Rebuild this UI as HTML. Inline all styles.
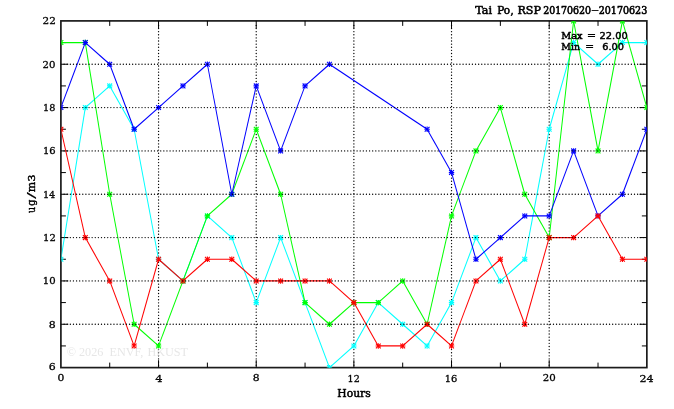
<!DOCTYPE html>
<html lang="en"><head><meta charset="utf-8"><title>Tai Po, RSP 20170620-20170623</title>
<style>
html,body{margin:0;padding:0;background:#fff;}
body{width:674px;height:409px;overflow:hidden;}
svg{display:block;}
text{font-family:"DejaVu Serif","Liberation Serif",serif;fill:#000;}
.t{stroke:#000;stroke-linejoin:round;}
.wm{font-family:"Liberation Serif",serif;font-size:12.2px;fill:#d6d6d6;fill-opacity:0.6;}
</style></head><body>
<svg width="674" height="409" viewBox="0 0 674 409">
<rect x="0" y="0" width="674" height="409" fill="#ffffff"/>
<defs><clipPath id="pc"><rect x="61.50" y="21.20" width="585.35" height="346.40"/></clipPath></defs>
<rect x="60.90" y="20.90" width="585.95" height="346.70" fill="none" stroke="#1c1c1c" stroke-width="1.70"/>
<g stroke="#000" stroke-width="1.00" fill="none">
<line x1="109.73" y1="20.90" x2="109.73" y2="25.90"/>
<line x1="109.73" y1="367.60" x2="109.73" y2="362.60"/>
<line x1="158.56" y1="20.90" x2="158.56" y2="28.30"/>
<line x1="158.56" y1="367.60" x2="158.56" y2="360.20"/>
<line x1="207.39" y1="20.90" x2="207.39" y2="25.90"/>
<line x1="207.39" y1="367.60" x2="207.39" y2="362.60"/>
<line x1="256.22" y1="20.90" x2="256.22" y2="28.30"/>
<line x1="256.22" y1="367.60" x2="256.22" y2="360.20"/>
<line x1="305.05" y1="20.90" x2="305.05" y2="25.90"/>
<line x1="305.05" y1="367.60" x2="305.05" y2="362.60"/>
<line x1="353.88" y1="20.90" x2="353.88" y2="28.30"/>
<line x1="353.88" y1="367.60" x2="353.88" y2="360.20"/>
<line x1="402.70" y1="20.90" x2="402.70" y2="25.90"/>
<line x1="402.70" y1="367.60" x2="402.70" y2="362.60"/>
<line x1="451.53" y1="20.90" x2="451.53" y2="28.30"/>
<line x1="451.53" y1="367.60" x2="451.53" y2="360.20"/>
<line x1="500.36" y1="20.90" x2="500.36" y2="25.90"/>
<line x1="500.36" y1="367.60" x2="500.36" y2="362.60"/>
<line x1="549.19" y1="20.90" x2="549.19" y2="28.30"/>
<line x1="549.19" y1="367.60" x2="549.19" y2="360.20"/>
<line x1="598.02" y1="20.90" x2="598.02" y2="25.90"/>
<line x1="598.02" y1="367.60" x2="598.02" y2="362.60"/>
<line x1="60.90" y1="345.93" x2="65.90" y2="345.93"/>
<line x1="646.85" y1="345.93" x2="641.85" y2="345.93"/>
<line x1="60.90" y1="324.26" x2="68.30" y2="324.26"/>
<line x1="646.85" y1="324.26" x2="639.45" y2="324.26"/>
<line x1="60.90" y1="302.59" x2="65.90" y2="302.59"/>
<line x1="646.85" y1="302.59" x2="641.85" y2="302.59"/>
<line x1="60.90" y1="280.93" x2="68.30" y2="280.93"/>
<line x1="646.85" y1="280.93" x2="639.45" y2="280.93"/>
<line x1="60.90" y1="259.26" x2="65.90" y2="259.26"/>
<line x1="646.85" y1="259.26" x2="641.85" y2="259.26"/>
<line x1="60.90" y1="237.59" x2="68.30" y2="237.59"/>
<line x1="646.85" y1="237.59" x2="639.45" y2="237.59"/>
<line x1="60.90" y1="215.92" x2="65.90" y2="215.92"/>
<line x1="646.85" y1="215.92" x2="641.85" y2="215.92"/>
<line x1="60.90" y1="194.25" x2="68.30" y2="194.25"/>
<line x1="646.85" y1="194.25" x2="639.45" y2="194.25"/>
<line x1="60.90" y1="172.58" x2="65.90" y2="172.58"/>
<line x1="646.85" y1="172.58" x2="641.85" y2="172.58"/>
<line x1="60.90" y1="150.91" x2="68.30" y2="150.91"/>
<line x1="646.85" y1="150.91" x2="639.45" y2="150.91"/>
<line x1="60.90" y1="129.24" x2="65.90" y2="129.24"/>
<line x1="646.85" y1="129.24" x2="641.85" y2="129.24"/>
<line x1="60.90" y1="107.58" x2="68.30" y2="107.58"/>
<line x1="646.85" y1="107.58" x2="639.45" y2="107.58"/>
<line x1="60.90" y1="85.91" x2="65.90" y2="85.91"/>
<line x1="646.85" y1="85.91" x2="641.85" y2="85.91"/>
<line x1="60.90" y1="64.24" x2="68.30" y2="64.24"/>
<line x1="646.85" y1="64.24" x2="639.45" y2="64.24"/>
<line x1="60.90" y1="42.57" x2="65.90" y2="42.57"/>
<line x1="646.85" y1="42.57" x2="641.85" y2="42.57"/>
</g>
<g stroke="#000" stroke-width="1.35" stroke-dasharray="0.01 3.107" stroke-linecap="round" fill="none">
<line x1="158.56" y1="25.42" x2="158.56" y2="366.60"/>
<line x1="256.22" y1="25.42" x2="256.22" y2="366.60"/>
<line x1="353.88" y1="25.42" x2="353.88" y2="366.60"/>
<line x1="451.53" y1="25.42" x2="451.53" y2="366.60"/>
<line x1="549.19" y1="25.42" x2="549.19" y2="366.60"/>
</g>
<g clip-path="url(#pc)" fill="none" stroke-width="1.15" stroke-linejoin="round">
<g stroke="#00ffff">
<line x1="60.90" y1="259.26" x2="85.31" y2="107.58" stroke-width="1.01"/>
<line x1="85.31" y1="107.58" x2="109.73" y2="85.91" stroke-width="1.11"/>
<line x1="109.73" y1="85.91" x2="134.14" y2="129.24" stroke-width="1.05"/>
<line x1="134.14" y1="129.24" x2="158.56" y2="259.26" stroke-width="1.01"/>
<line x1="158.56" y1="259.26" x2="182.97" y2="280.93" stroke-width="1.11"/>
<line x1="182.97" y1="280.93" x2="207.39" y2="215.92" stroke-width="1.02"/>
<line x1="207.39" y1="215.92" x2="231.80" y2="237.59" stroke-width="1.11"/>
<line x1="231.80" y1="237.59" x2="256.22" y2="302.59" stroke-width="1.02"/>
<line x1="256.22" y1="302.59" x2="280.63" y2="237.59" stroke-width="1.02"/>
<line x1="280.63" y1="237.59" x2="305.05" y2="302.59" stroke-width="1.02"/>
<line x1="305.05" y1="302.59" x2="329.46" y2="367.60" stroke-width="1.02"/>
<line x1="329.46" y1="367.60" x2="353.88" y2="345.93" stroke-width="1.11"/>
<line x1="353.88" y1="345.93" x2="378.29" y2="302.59" stroke-width="1.05"/>
<line x1="378.29" y1="302.59" x2="402.70" y2="324.26" stroke-width="1.11"/>
<line x1="402.70" y1="324.26" x2="427.12" y2="345.93" stroke-width="1.11"/>
<line x1="427.12" y1="345.93" x2="451.53" y2="302.59" stroke-width="1.05"/>
<line x1="451.53" y1="302.59" x2="475.95" y2="237.59" stroke-width="1.02"/>
<line x1="475.95" y1="237.59" x2="500.36" y2="280.93" stroke-width="1.05"/>
<line x1="500.36" y1="280.93" x2="524.78" y2="259.26" stroke-width="1.11"/>
<line x1="524.78" y1="259.26" x2="549.19" y2="129.24" stroke-width="1.01"/>
<line x1="549.19" y1="129.24" x2="573.61" y2="42.57" stroke-width="1.01"/>
<line x1="573.61" y1="42.57" x2="598.02" y2="64.24" stroke-width="1.11"/>
<line x1="598.02" y1="64.24" x2="622.44" y2="42.57" stroke-width="1.11"/>
<line x1="622.44" y1="42.57" x2="646.85" y2="42.57" stroke-width="1.20"/>
<path stroke-width="1.10" d="M58.20 259.26h5.40M60.90 256.56v5.40M82.61 107.58h5.40M85.31 104.88v5.40M107.03 85.91h5.40M109.73 83.21v5.40M131.44 129.24h5.40M134.14 126.54v5.40M155.86 259.26h5.40M158.56 256.56v5.40M180.27 280.93h5.40M182.97 278.23v5.40M204.69 215.92h5.40M207.39 213.22v5.40M229.10 237.59h5.40M231.80 234.89v5.40M253.52 302.59h5.40M256.22 299.89v5.40M277.93 237.59h5.40M280.63 234.89v5.40M302.35 302.59h5.40M305.05 299.89v5.40M326.76 367.60h5.40M329.46 364.90v5.40M351.18 345.93h5.40M353.88 343.23v5.40M375.59 302.59h5.40M378.29 299.89v5.40M400.00 324.26h5.40M402.70 321.56v5.40M424.42 345.93h5.40M427.12 343.23v5.40M448.83 302.59h5.40M451.53 299.89v5.40M473.25 237.59h5.40M475.95 234.89v5.40M497.66 280.93h5.40M500.36 278.23v5.40M522.08 259.26h5.40M524.78 256.56v5.40M546.49 129.24h5.40M549.19 126.54v5.40M570.91 42.57h5.40M573.61 39.87v5.40M595.32 64.24h5.40M598.02 61.54v5.40M619.74 42.57h5.40M622.44 39.87v5.40M644.15 42.57h5.40M646.85 39.87v5.40"/>
<path stroke-width="1.10" d="M58.50 256.86l4.80 4.80M58.50 261.66l4.80 -4.80M82.91 105.18l4.80 4.80M82.91 109.98l4.80 -4.80M107.33 83.51l4.80 4.80M107.33 88.31l4.80 -4.80M131.74 126.84l4.80 4.80M131.74 131.64l4.80 -4.80M156.16 256.86l4.80 4.80M156.16 261.66l4.80 -4.80M180.57 278.53l4.80 4.80M180.57 283.32l4.80 -4.80M204.99 213.52l4.80 4.80M204.99 218.32l4.80 -4.80M229.40 235.19l4.80 4.80M229.40 239.99l4.80 -4.80M253.82 300.19l4.80 4.80M253.82 304.99l4.80 -4.80M278.23 235.19l4.80 4.80M278.23 239.99l4.80 -4.80M302.65 300.19l4.80 4.80M302.65 304.99l4.80 -4.80M327.06 365.20l4.80 4.80M327.06 370.00l4.80 -4.80M351.48 343.53l4.80 4.80M351.48 348.33l4.80 -4.80M375.89 300.19l4.80 4.80M375.89 304.99l4.80 -4.80M400.30 321.86l4.80 4.80M400.30 326.66l4.80 -4.80M424.72 343.53l4.80 4.80M424.72 348.33l4.80 -4.80M449.13 300.19l4.80 4.80M449.13 304.99l4.80 -4.80M473.55 235.19l4.80 4.80M473.55 239.99l4.80 -4.80M497.96 278.53l4.80 4.80M497.96 283.32l4.80 -4.80M522.38 256.86l4.80 4.80M522.38 261.66l4.80 -4.80M546.79 126.84l4.80 4.80M546.79 131.64l4.80 -4.80M571.21 40.17l4.80 4.80M571.21 44.97l4.80 -4.80M595.62 61.84l4.80 4.80M595.62 66.64l4.80 -4.80M620.04 40.17l4.80 4.80M620.04 44.97l4.80 -4.80M644.45 40.17l4.80 4.80M644.45 44.97l4.80 -4.80"/>
</g>
<g stroke="#00ff00">
<line x1="60.90" y1="42.57" x2="85.31" y2="42.57" stroke-width="1.20"/>
<line x1="85.31" y1="42.57" x2="109.73" y2="194.25" stroke-width="1.01"/>
<line x1="109.73" y1="194.25" x2="134.14" y2="324.26" stroke-width="1.01"/>
<line x1="134.14" y1="324.26" x2="158.56" y2="345.93" stroke-width="1.11"/>
<line x1="158.56" y1="345.93" x2="182.97" y2="280.93" stroke-width="1.02"/>
<line x1="182.97" y1="280.93" x2="207.39" y2="215.92" stroke-width="1.02"/>
<line x1="207.39" y1="215.92" x2="231.80" y2="194.25" stroke-width="1.11"/>
<line x1="231.80" y1="194.25" x2="256.22" y2="129.24" stroke-width="1.02"/>
<line x1="256.22" y1="129.24" x2="280.63" y2="194.25" stroke-width="1.02"/>
<line x1="280.63" y1="194.25" x2="305.05" y2="302.59" stroke-width="1.01"/>
<line x1="305.05" y1="302.59" x2="329.46" y2="324.26" stroke-width="1.11"/>
<line x1="329.46" y1="324.26" x2="353.88" y2="302.59" stroke-width="1.11"/>
<line x1="353.88" y1="302.59" x2="378.29" y2="302.59" stroke-width="1.20"/>
<line x1="378.29" y1="302.59" x2="402.70" y2="280.93" stroke-width="1.11"/>
<line x1="402.70" y1="280.93" x2="427.12" y2="324.26" stroke-width="1.05"/>
<line x1="427.12" y1="324.26" x2="451.53" y2="215.92" stroke-width="1.01"/>
<line x1="451.53" y1="215.92" x2="475.95" y2="150.91" stroke-width="1.02"/>
<line x1="475.95" y1="150.91" x2="500.36" y2="107.58" stroke-width="1.05"/>
<line x1="500.36" y1="107.58" x2="524.78" y2="194.25" stroke-width="1.01"/>
<line x1="524.78" y1="194.25" x2="549.19" y2="237.59" stroke-width="1.05"/>
<line x1="549.19" y1="237.59" x2="573.61" y2="20.90" stroke-width="1.00"/>
<line x1="573.61" y1="20.90" x2="598.02" y2="150.91" stroke-width="1.01"/>
<line x1="598.02" y1="150.91" x2="622.44" y2="20.90" stroke-width="1.01"/>
<line x1="622.44" y1="20.90" x2="646.85" y2="107.58" stroke-width="1.01"/>
<path stroke-width="1.10" d="M58.20 42.57h5.40M60.90 39.87v5.40M82.61 42.57h5.40M85.31 39.87v5.40M107.03 194.25h5.40M109.73 191.55v5.40M131.44 324.26h5.40M134.14 321.56v5.40M155.86 345.93h5.40M158.56 343.23v5.40M180.27 280.93h5.40M182.97 278.23v5.40M204.69 215.92h5.40M207.39 213.22v5.40M229.10 194.25h5.40M231.80 191.55v5.40M253.52 129.24h5.40M256.22 126.54v5.40M277.93 194.25h5.40M280.63 191.55v5.40M302.35 302.59h5.40M305.05 299.89v5.40M326.76 324.26h5.40M329.46 321.56v5.40M351.18 302.59h5.40M353.88 299.89v5.40M375.59 302.59h5.40M378.29 299.89v5.40M400.00 280.93h5.40M402.70 278.23v5.40M424.42 324.26h5.40M427.12 321.56v5.40M448.83 215.92h5.40M451.53 213.22v5.40M473.25 150.91h5.40M475.95 148.21v5.40M497.66 107.58h5.40M500.36 104.88v5.40M522.08 194.25h5.40M524.78 191.55v5.40M546.49 237.59h5.40M549.19 234.89v5.40M570.91 20.90h5.40M573.61 18.20v5.40M595.32 150.91h5.40M598.02 148.21v5.40M619.74 20.90h5.40M622.44 18.20v5.40M644.15 107.58h5.40M646.85 104.88v5.40"/>
<path stroke-width="1.10" d="M58.50 40.17l4.80 4.80M58.50 44.97l4.80 -4.80M82.91 40.17l4.80 4.80M82.91 44.97l4.80 -4.80M107.33 191.85l4.80 4.80M107.33 196.65l4.80 -4.80M131.74 321.86l4.80 4.80M131.74 326.66l4.80 -4.80M156.16 343.53l4.80 4.80M156.16 348.33l4.80 -4.80M180.57 278.53l4.80 4.80M180.57 283.32l4.80 -4.80M204.99 213.52l4.80 4.80M204.99 218.32l4.80 -4.80M229.40 191.85l4.80 4.80M229.40 196.65l4.80 -4.80M253.82 126.84l4.80 4.80M253.82 131.64l4.80 -4.80M278.23 191.85l4.80 4.80M278.23 196.65l4.80 -4.80M302.65 300.19l4.80 4.80M302.65 304.99l4.80 -4.80M327.06 321.86l4.80 4.80M327.06 326.66l4.80 -4.80M351.48 300.19l4.80 4.80M351.48 304.99l4.80 -4.80M375.89 300.19l4.80 4.80M375.89 304.99l4.80 -4.80M400.30 278.53l4.80 4.80M400.30 283.32l4.80 -4.80M424.72 321.86l4.80 4.80M424.72 326.66l4.80 -4.80M449.13 213.52l4.80 4.80M449.13 218.32l4.80 -4.80M473.55 148.51l4.80 4.80M473.55 153.31l4.80 -4.80M497.96 105.18l4.80 4.80M497.96 109.98l4.80 -4.80M522.38 191.85l4.80 4.80M522.38 196.65l4.80 -4.80M546.79 235.19l4.80 4.80M546.79 239.99l4.80 -4.80M571.21 18.50l4.80 4.80M571.21 23.30l4.80 -4.80M595.62 148.51l4.80 4.80M595.62 153.31l4.80 -4.80M620.04 18.50l4.80 4.80M620.04 23.30l4.80 -4.80M644.45 105.18l4.80 4.80M644.45 109.98l4.80 -4.80"/>
</g>
<g stroke="#0000ff">
<line x1="60.90" y1="107.58" x2="85.31" y2="42.57" stroke-width="1.02"/>
<line x1="85.31" y1="42.57" x2="109.73" y2="64.24" stroke-width="1.11"/>
<line x1="109.73" y1="64.24" x2="134.14" y2="129.24" stroke-width="1.02"/>
<line x1="134.14" y1="129.24" x2="158.56" y2="107.58" stroke-width="1.11"/>
<line x1="158.56" y1="107.58" x2="182.97" y2="85.91" stroke-width="1.11"/>
<line x1="182.97" y1="85.91" x2="207.39" y2="64.24" stroke-width="1.11"/>
<line x1="207.39" y1="64.24" x2="231.80" y2="194.25" stroke-width="1.01"/>
<line x1="231.80" y1="194.25" x2="256.22" y2="85.91" stroke-width="1.01"/>
<line x1="256.22" y1="85.91" x2="280.63" y2="150.91" stroke-width="1.02"/>
<line x1="280.63" y1="150.91" x2="305.05" y2="85.91" stroke-width="1.02"/>
<line x1="305.05" y1="85.91" x2="329.46" y2="64.24" stroke-width="1.11"/>
<line x1="329.46" y1="64.24" x2="427.12" y2="129.24" stroke-width="1.14"/>
<line x1="427.12" y1="129.24" x2="451.53" y2="172.58" stroke-width="1.05"/>
<line x1="451.53" y1="172.58" x2="475.95" y2="259.26" stroke-width="1.01"/>
<line x1="475.95" y1="259.26" x2="500.36" y2="237.59" stroke-width="1.11"/>
<line x1="500.36" y1="237.59" x2="524.78" y2="215.92" stroke-width="1.11"/>
<line x1="524.78" y1="215.92" x2="549.19" y2="215.92" stroke-width="1.20"/>
<line x1="549.19" y1="215.92" x2="573.61" y2="150.91" stroke-width="1.02"/>
<line x1="573.61" y1="150.91" x2="598.02" y2="215.92" stroke-width="1.02"/>
<line x1="598.02" y1="215.92" x2="622.44" y2="194.25" stroke-width="1.11"/>
<line x1="622.44" y1="194.25" x2="646.85" y2="129.24" stroke-width="1.02"/>
<path stroke-width="1.10" d="M58.20 107.58h5.40M60.90 104.88v5.40M82.61 42.57h5.40M85.31 39.87v5.40M107.03 64.24h5.40M109.73 61.54v5.40M131.44 129.24h5.40M134.14 126.54v5.40M155.86 107.58h5.40M158.56 104.88v5.40M180.27 85.91h5.40M182.97 83.21v5.40M204.69 64.24h5.40M207.39 61.54v5.40M229.10 194.25h5.40M231.80 191.55v5.40M253.52 85.91h5.40M256.22 83.21v5.40M277.93 150.91h5.40M280.63 148.21v5.40M302.35 85.91h5.40M305.05 83.21v5.40M326.76 64.24h5.40M329.46 61.54v5.40M424.42 129.24h5.40M427.12 126.54v5.40M448.83 172.58h5.40M451.53 169.88v5.40M473.25 259.26h5.40M475.95 256.56v5.40M497.66 237.59h5.40M500.36 234.89v5.40M522.08 215.92h5.40M524.78 213.22v5.40M546.49 215.92h5.40M549.19 213.22v5.40M570.91 150.91h5.40M573.61 148.21v5.40M595.32 215.92h5.40M598.02 213.22v5.40M619.74 194.25h5.40M622.44 191.55v5.40M644.15 129.24h5.40M646.85 126.54v5.40"/>
<path stroke-width="1.10" d="M58.50 105.18l4.80 4.80M58.50 109.98l4.80 -4.80M82.91 40.17l4.80 4.80M82.91 44.97l4.80 -4.80M107.33 61.84l4.80 4.80M107.33 66.64l4.80 -4.80M131.74 126.84l4.80 4.80M131.74 131.64l4.80 -4.80M156.16 105.18l4.80 4.80M156.16 109.98l4.80 -4.80M180.57 83.51l4.80 4.80M180.57 88.31l4.80 -4.80M204.99 61.84l4.80 4.80M204.99 66.64l4.80 -4.80M229.40 191.85l4.80 4.80M229.40 196.65l4.80 -4.80M253.82 83.51l4.80 4.80M253.82 88.31l4.80 -4.80M278.23 148.51l4.80 4.80M278.23 153.31l4.80 -4.80M302.65 83.51l4.80 4.80M302.65 88.31l4.80 -4.80M327.06 61.84l4.80 4.80M327.06 66.64l4.80 -4.80M424.72 126.84l4.80 4.80M424.72 131.64l4.80 -4.80M449.13 170.18l4.80 4.80M449.13 174.98l4.80 -4.80M473.55 256.86l4.80 4.80M473.55 261.66l4.80 -4.80M497.96 235.19l4.80 4.80M497.96 239.99l4.80 -4.80M522.38 213.52l4.80 4.80M522.38 218.32l4.80 -4.80M546.79 213.52l4.80 4.80M546.79 218.32l4.80 -4.80M571.21 148.51l4.80 4.80M571.21 153.31l4.80 -4.80M595.62 213.52l4.80 4.80M595.62 218.32l4.80 -4.80M620.04 191.85l4.80 4.80M620.04 196.65l4.80 -4.80M644.45 126.84l4.80 4.80M644.45 131.64l4.80 -4.80"/>
</g>
<g stroke="#ff0000">
<line x1="60.90" y1="129.24" x2="85.31" y2="237.59" stroke-width="1.01"/>
<line x1="85.31" y1="237.59" x2="109.73" y2="280.93" stroke-width="1.05"/>
<line x1="109.73" y1="280.93" x2="134.14" y2="345.93" stroke-width="1.02"/>
<line x1="134.14" y1="345.93" x2="158.56" y2="259.26" stroke-width="1.01"/>
<line x1="158.56" y1="259.26" x2="182.97" y2="280.93" stroke-width="1.11"/>
<line x1="182.97" y1="280.93" x2="207.39" y2="259.26" stroke-width="1.11"/>
<line x1="207.39" y1="259.26" x2="231.80" y2="259.26" stroke-width="1.20"/>
<line x1="231.80" y1="259.26" x2="256.22" y2="280.93" stroke-width="1.11"/>
<line x1="256.22" y1="280.93" x2="280.63" y2="280.93" stroke-width="1.20"/>
<line x1="280.63" y1="280.93" x2="305.05" y2="280.93" stroke-width="1.20"/>
<line x1="305.05" y1="280.93" x2="329.46" y2="280.93" stroke-width="1.20"/>
<line x1="329.46" y1="280.93" x2="353.88" y2="302.59" stroke-width="1.11"/>
<line x1="353.88" y1="302.59" x2="378.29" y2="345.93" stroke-width="1.05"/>
<line x1="378.29" y1="345.93" x2="402.70" y2="345.93" stroke-width="1.20"/>
<line x1="402.70" y1="345.93" x2="427.12" y2="324.26" stroke-width="1.11"/>
<line x1="427.12" y1="324.26" x2="451.53" y2="345.93" stroke-width="1.11"/>
<line x1="451.53" y1="345.93" x2="475.95" y2="280.93" stroke-width="1.02"/>
<line x1="475.95" y1="280.93" x2="500.36" y2="259.26" stroke-width="1.11"/>
<line x1="500.36" y1="259.26" x2="524.78" y2="324.26" stroke-width="1.02"/>
<line x1="524.78" y1="324.26" x2="549.19" y2="237.59" stroke-width="1.01"/>
<line x1="549.19" y1="237.59" x2="573.61" y2="237.59" stroke-width="1.20"/>
<line x1="573.61" y1="237.59" x2="598.02" y2="215.92" stroke-width="1.11"/>
<line x1="598.02" y1="215.92" x2="622.44" y2="259.26" stroke-width="1.05"/>
<line x1="622.44" y1="259.26" x2="646.85" y2="259.26" stroke-width="1.20"/>
<path stroke-width="1.10" d="M58.20 129.24h5.40M60.90 126.54v5.40M82.61 237.59h5.40M85.31 234.89v5.40M107.03 280.93h5.40M109.73 278.23v5.40M131.44 345.93h5.40M134.14 343.23v5.40M155.86 259.26h5.40M158.56 256.56v5.40M180.27 280.93h5.40M182.97 278.23v5.40M204.69 259.26h5.40M207.39 256.56v5.40M229.10 259.26h5.40M231.80 256.56v5.40M253.52 280.93h5.40M256.22 278.23v5.40M277.93 280.93h5.40M280.63 278.23v5.40M302.35 280.93h5.40M305.05 278.23v5.40M326.76 280.93h5.40M329.46 278.23v5.40M351.18 302.59h5.40M353.88 299.89v5.40M375.59 345.93h5.40M378.29 343.23v5.40M400.00 345.93h5.40M402.70 343.23v5.40M424.42 324.26h5.40M427.12 321.56v5.40M448.83 345.93h5.40M451.53 343.23v5.40M473.25 280.93h5.40M475.95 278.23v5.40M497.66 259.26h5.40M500.36 256.56v5.40M522.08 324.26h5.40M524.78 321.56v5.40M546.49 237.59h5.40M549.19 234.89v5.40M570.91 237.59h5.40M573.61 234.89v5.40M595.32 215.92h5.40M598.02 213.22v5.40M619.74 259.26h5.40M622.44 256.56v5.40M644.15 259.26h5.40M646.85 256.56v5.40"/>
<path stroke-width="1.10" d="M58.50 126.84l4.80 4.80M58.50 131.64l4.80 -4.80M82.91 235.19l4.80 4.80M82.91 239.99l4.80 -4.80M107.33 278.53l4.80 4.80M107.33 283.32l4.80 -4.80M131.74 343.53l4.80 4.80M131.74 348.33l4.80 -4.80M156.16 256.86l4.80 4.80M156.16 261.66l4.80 -4.80M180.57 278.53l4.80 4.80M180.57 283.32l4.80 -4.80M204.99 256.86l4.80 4.80M204.99 261.66l4.80 -4.80M229.40 256.86l4.80 4.80M229.40 261.66l4.80 -4.80M253.82 278.53l4.80 4.80M253.82 283.32l4.80 -4.80M278.23 278.53l4.80 4.80M278.23 283.32l4.80 -4.80M302.65 278.53l4.80 4.80M302.65 283.32l4.80 -4.80M327.06 278.53l4.80 4.80M327.06 283.32l4.80 -4.80M351.48 300.19l4.80 4.80M351.48 304.99l4.80 -4.80M375.89 343.53l4.80 4.80M375.89 348.33l4.80 -4.80M400.30 343.53l4.80 4.80M400.30 348.33l4.80 -4.80M424.72 321.86l4.80 4.80M424.72 326.66l4.80 -4.80M449.13 343.53l4.80 4.80M449.13 348.33l4.80 -4.80M473.55 278.53l4.80 4.80M473.55 283.32l4.80 -4.80M497.96 256.86l4.80 4.80M497.96 261.66l4.80 -4.80M522.38 321.86l4.80 4.80M522.38 326.66l4.80 -4.80M546.79 235.19l4.80 4.80M546.79 239.99l4.80 -4.80M571.21 235.19l4.80 4.80M571.21 239.99l4.80 -4.80M595.62 213.52l4.80 4.80M595.62 218.32l4.80 -4.80M620.04 256.86l4.80 4.80M620.04 261.66l4.80 -4.80M644.45 256.86l4.80 4.80M644.45 261.66l4.80 -4.80"/>
</g>
</g>
<g stroke="#000" stroke-width="1.35" stroke-dasharray="0.01 3.107" stroke-linecap="round" fill="none">
<line x1="64.09" y1="324.26" x2="645.85" y2="324.26"/>
<line x1="64.09" y1="280.93" x2="645.85" y2="280.93"/>
<line x1="64.09" y1="237.59" x2="645.85" y2="237.59"/>
<line x1="64.09" y1="194.25" x2="645.85" y2="194.25"/>
<line x1="64.09" y1="150.91" x2="645.85" y2="150.91"/>
<line x1="64.09" y1="107.58" x2="645.85" y2="107.58"/>
<line x1="64.09" y1="64.24" x2="645.85" y2="64.24"/>
</g>
<text class="t" style="font-family:'DejaVu Serif','Liberation Serif',serif;font-size:9.50px;stroke-width:0.50px" y="39.10"><tspan x="561.35" y="39.10" textLength="21.25" lengthAdjust="spacingAndGlyphs">Max</tspan> <tspan x="587.05" y="39.10" textLength="8.95" lengthAdjust="spacingAndGlyphs">=</tspan> <tspan style="font-family:'DejaVu Sans','Liberation Sans',sans-serif;font-size:9.50px;stroke-width:0.45px" x="599.60" y="39.10" textLength="28.12" lengthAdjust="spacingAndGlyphs">22.00</tspan></text>
<text class="t" style="font-family:'DejaVu Serif','Liberation Serif',serif;font-size:9.50px;stroke-width:0.50px" y="49.90" xml:space="preserve"><tspan x="561.35" y="49.90" textLength="18.55" lengthAdjust="spacingAndGlyphs">Min</tspan> <tspan x="585.25" y="49.90" textLength="8.75" lengthAdjust="spacingAndGlyphs">=</tspan>  <tspan style="font-family:'DejaVu Sans','Liberation Sans',sans-serif;font-size:9.50px;stroke-width:0.45px" x="602.20" y="49.90" textLength="21.72" lengthAdjust="spacingAndGlyphs">6.00</tspan></text>
<text class="wm" x="66.7" y="355.7" xml:space="preserve">© 2026  ENVF, <tspan dx="1">HKUST</tspan></text>
<text class="t" style="font-family:'DejaVu Serif','Liberation Serif',serif;font-size:9.60px;stroke-width:0.30px" transform="translate(48.70,370.40) scale(1.1338,1)">6</text>
<text class="t" style="font-family:'DejaVu Serif','Liberation Serif',serif;font-size:9.60px;stroke-width:0.30px" transform="translate(48.70,327.76) scale(1.1409,1)">8</text>
<text class="t" style="font-family:'DejaVu Serif','Liberation Serif',serif;font-size:9.60px;stroke-width:0.30px" transform="translate(42.80,284.43) scale(1.0514,1)">10</text>
<text class="t" style="font-family:'DejaVu Serif','Liberation Serif',serif;font-size:9.60px;stroke-width:0.30px" transform="translate(43.00,241.09) scale(1.0476,1)">12</text>
<text class="t" style="font-family:'DejaVu Serif','Liberation Serif',serif;font-size:9.60px;stroke-width:0.30px" transform="translate(42.90,198.25) scale(1.0138,1)">14</text>
<text class="t" style="font-family:'DejaVu Serif','Liberation Serif',serif;font-size:9.60px;stroke-width:0.30px" transform="translate(42.90,154.41) scale(1.0374,1)">16</text>
<text class="t" style="font-family:'DejaVu Serif','Liberation Serif',serif;font-size:9.60px;stroke-width:0.30px" transform="translate(43.10,111.08) scale(1.0095,1)">18</text>
<text class="t" style="font-family:'DejaVu Serif','Liberation Serif',serif;font-size:9.60px;stroke-width:0.30px" transform="translate(42.60,67.74) scale(1.0535,1)">20</text>
<text class="t" style="font-family:'DejaVu Serif','Liberation Serif',serif;font-size:9.60px;stroke-width:0.30px" transform="translate(42.50,24.20) scale(1.0909,1)">22</text>
<text class="t" style="font-family:'DejaVu Serif','Liberation Serif',serif;font-size:9.60px;stroke-width:0.30px" transform="translate(57.60,381.40) scale(1.1220,1)">0</text>
<text class="t" style="font-family:'DejaVu Serif','Liberation Serif',serif;font-size:9.60px;stroke-width:0.30px" transform="translate(155.35,381.80) scale(1.1913,1)">4</text>
<text class="t" style="font-family:'DejaVu Serif','Liberation Serif',serif;font-size:9.60px;stroke-width:0.30px" transform="translate(252.80,381.40) scale(1.1220,1)">8</text>
<text class="t" style="font-family:'DejaVu Serif','Liberation Serif',serif;font-size:9.60px;stroke-width:0.30px" transform="translate(347.60,381.80) scale(1.0000,1)">12</text>
<text class="t" style="font-family:'DejaVu Serif','Liberation Serif',serif;font-size:9.60px;stroke-width:0.30px" transform="translate(444.80,381.80) scale(1.0280,1)">16</text>
<text class="t" style="font-family:'DejaVu Serif','Liberation Serif',serif;font-size:9.60px;stroke-width:0.30px" transform="translate(542.70,381.40) scale(1.0623,1)">20</text>
<text class="t" style="font-family:'DejaVu Serif','Liberation Serif',serif;font-size:9.60px;stroke-width:0.30px" transform="translate(639.50,381.80) scale(1.1567,1)">24</text>
<text class="t" style="font-family:'DejaVu Serif','Liberation Serif',serif;font-size:10.20px;stroke-width:0.50px" transform="translate(337.35,397.00) scale(1.0560,1)">Hours</text>
<text class="t" style="font-family:'DejaVu Serif','Liberation Serif',serif;font-size:11.30px;stroke-width:0.40px" transform="translate(35.40,213.00) rotate(-90)"><tspan style="font-family:'DejaVu Serif','Liberation Serif',serif;font-size:11.30px;stroke-width:0.40px" x="0.00" textLength="6.04" lengthAdjust="spacingAndGlyphs">u</tspan><tspan style="font-family:'DejaVu Serif','Liberation Serif',serif;font-size:11.30px;stroke-width:0.40px" x="7.35" textLength="6.06" lengthAdjust="spacingAndGlyphs">g</tspan><tspan style="font-family:'DejaVu Serif','Liberation Serif',serif;font-size:11.60px;stroke-width:0.10px" x="14.10" textLength="6.95" lengthAdjust="spacingAndGlyphs">/</tspan><tspan style="font-family:'DejaVu Serif','Liberation Serif',serif;font-size:11.30px;stroke-width:0.40px" x="20.85" textLength="10.46" lengthAdjust="spacingAndGlyphs">m</tspan><tspan style="font-family:'DejaVu Serif','Liberation Serif',serif;font-size:10.00px;stroke-width:0.45px" x="31.60" textLength="6.99" lengthAdjust="spacingAndGlyphs">3</tspan></text>
<text class="t" style="font-family:'DejaVu Serif','Liberation Serif',serif;font-size:10.30px;stroke-width:0.55px" y="13.60"><tspan x="475.15" y="13.60" textLength="16.86" lengthAdjust="spacingAndGlyphs">Tai</tspan> <tspan x="497.15" y="13.60" textLength="12.92" lengthAdjust="spacingAndGlyphs">Po</tspan><tspan x="510.45" y="13.60" textLength="3.22" lengthAdjust="spacingAndGlyphs">,</tspan> <tspan x="517.55" y="13.60" textLength="23.36" lengthAdjust="spacingAndGlyphs">RSP</tspan> <tspan style="font-family:'DejaVu Serif','Liberation Serif',serif;font-size:10.30px;stroke-width:0.60px" x="543.15" y="13.60" textLength="47.95" lengthAdjust="spacingAndGlyphs">20170620</tspan><tspan style="font-family:'DejaVu Serif','Liberation Serif',serif;font-size:10.30px;stroke-width:0.10px" x="590.80" y="13.70" textLength="8.70" lengthAdjust="spacingAndGlyphs">-</tspan><tspan style="font-family:'DejaVu Serif','Liberation Serif',serif;font-size:10.30px;stroke-width:0.60px" x="598.75" y="13.60" textLength="48.45" lengthAdjust="spacingAndGlyphs">20170623</tspan></text>
</svg>
</body></html>
